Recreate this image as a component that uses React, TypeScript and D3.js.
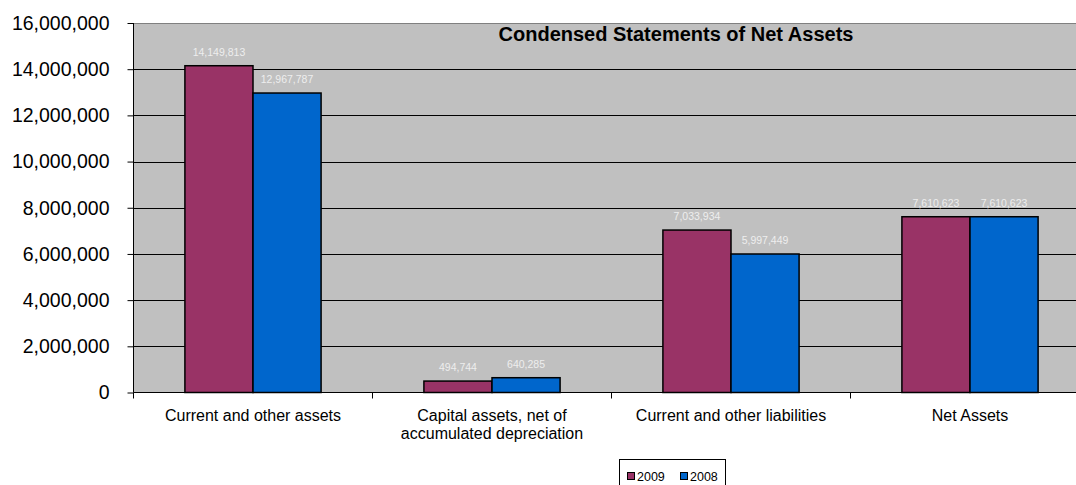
import React, { useEffect, useRef } from "react";
import * as d3 from "d3";

const categories = [
  ["Current and other assets"],
  ["Capital assets, net of", "accumulated depreciation"],
  ["Current and other liabilities"],
  ["Net Assets"],
];
const series = ["2009", "2008"];
const values2009 = [14149813, 494744, 7033934, 7610623];
const values2008 = [12967787, 640285, 5997449, 7610623];
const yTicks = [0, 2000000, 4000000, 6000000, 8000000, 10000000, 12000000, 14000000, 16000000];
const colors = ["#993366", "#0066CC"];

const W = 1076;
const H = 485;

const App = () => {
  const ref = useRef<SVGSVGElement>(null);

  useEffect(() => {
    if (!ref.current) return;
    const svg = d3.select(ref.current);
    svg.selectAll("*").remove();

    const left = 133.5;
    const right = 1089.5;
    const top = 23;
    const bottom = 392.5;

    const x = d3.scaleBand<number>().domain(d3.range(categories.length)).range([left, right]);
    const inner = d3.scaleBand<number>().domain([0, 1]).range([0, x.bandwidth()]).paddingOuter(0.755);
    const y = d3.scaleLinear().domain([0, 16000000]).range([bottom, top]);

    // plot area
    svg.append("rect")
      .attr("x", left).attr("y", top)
      .attr("width", right - left).attr("height", bottom - top)
      .attr("fill", "#C0C0C0");
    svg.append("line")
      .attr("x1", left).attr("x2", right).attr("y1", top + 0.5).attr("y2", top + 0.5)
      .attr("stroke", "#808080");

    // gridlines
    svg.append("g")
      .selectAll("line")
      .data(yTicks.slice(1, -1))
      .join("line")
      .attr("x1", left).attr("x2", right)
      .attr("y1", d => Math.round(y(d)) + 0.5).attr("y2", d => Math.round(y(d)) + 0.5)
      .attr("stroke", "#000");

    // y axis
    const yAxis = d3.axisLeft(y).tickValues(yTicks).tickSize(6).tickPadding(18)
      .tickFormat(d => d3.format(",")(d as number));
    const gy = svg.append("g").attr("transform", `translate(${left},0)`).call(yAxis);
    gy.selectAll("text").attr("font-family", "Arial, Liberation Sans, sans-serif")
      .attr("font-size", 19.5).attr("fill", "#000");
    gy.selectAll("line").attr("stroke", "#000");
    gy.select(".domain").attr("stroke", "#000").attr("d", `M0,${top}V${bottom}`);

    // bars
    const data = [values2009, values2008];
    categories.forEach((_, i) => {
      data.forEach((vals, s) => {
        const bx = x(i)! + inner(s)!;
        const bw = inner.bandwidth();
        svg.append("rect")
          .attr("x", bx).attr("y", y(vals[i]))
          .attr("width", bw).attr("height", bottom - y(vals[i]))
          .attr("fill", colors[s]).attr("stroke", "#000").attr("stroke-width", 1.5);
        svg.append("text")
          .attr("x", bx + bw / 2).attr("y", y(vals[i]) - 10)
          .attr("text-anchor", "middle")
          .attr("font-family", "Arial, Liberation Sans, sans-serif")
          .attr("font-size", 10.5).attr("fill", "#EEEEEE")
          .text(d3.format(",")(vals[i]));
      });
    });

    // x axis
    svg.append("line")
      .attr("x1", left).attr("x2", right).attr("y1", bottom).attr("y2", bottom)
      .attr("stroke", "#000");
    svg.append("g")
      .selectAll("line")
      .data(d3.range(categories.length + 1))
      .join("line")
      .attr("x1", d => left + d * x.bandwidth()).attr("x2", d => left + d * x.bandwidth())
      .attr("y1", bottom).attr("y2", bottom + 6)
      .attr("stroke", "#000");

    categories.forEach((lines, i) => {
      const t = svg.append("text")
        .attr("text-anchor", "middle")
        .attr("font-family", "Arial, Liberation Sans, sans-serif")
        .attr("font-size", 16).attr("fill", "#000");
      lines.forEach((l, j) => {
        t.append("tspan").attr("x", x(i)! + x.bandwidth() / 2).attr("y", 421 + j * 18).text(l);
      });
    });

    // title
    svg.append("text")
      .attr("x", 676).attr("y", 41)
      .attr("text-anchor", "middle")
      .attr("font-family", "Arial, Liberation Sans, sans-serif")
      .attr("font-size", 20).attr("font-weight", "bold")
      .text("Condensed Statements of Net Assets");

    // legend
    const lg = svg.append("g");
    lg.append("rect").attr("x", 619.5).attr("y", 459.5).attr("width", 106).attr("height", 40)
      .attr("fill", "#fff").attr("stroke", "#000");
    series.forEach((s, i) => {
      const lx = 627 + i * 53;
      lg.append("rect").attr("x", lx + 0.5).attr("y", 472.5).attr("width", 7).attr("height", 7)
        .attr("fill", colors[i]).attr("stroke", "#000");
      lg.append("text").attr("x", lx + 10).attr("y", 481)
        .attr("font-family", "Arial, Liberation Sans, sans-serif")
        .attr("font-size", 12.5).text(s);
    });
  }, []);

  return (
    <svg ref={ref} width={W} height={H} style={{ position: "absolute", left: 0, top: 0 }}></svg>
  );
};

export default App;
